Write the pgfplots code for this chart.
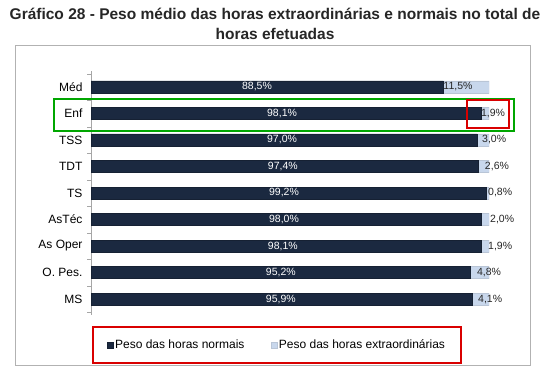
\documentclass[border=0pt]{standalone}
\usepackage{pgfplots}
\pgfplotsset{compat=1.18}
\usepackage{fontspec}
\setmainfont{Liberation Sans}
\definecolor{dk}{HTML}{1B2940}
\definecolor{lt}{HTML}{C8D7EC}
\begin{document}
\begin{tikzpicture}
\useasboundingbox (0,0) rectangle (550pt,370pt);
\fill[white] (0,0) rectangle (550pt,370pt);
\draw[gray!60, line width=0.6pt] (15pt,5pt) rectangle (530pt,325pt);
\node[font=\bfseries\fontsize{15.5}{18}\selectfont, text=black!85] at (275pt,356pt) {Gráfico 28 - Peso médio das horas extraordinárias e normais no total de};
\node[font=\bfseries\fontsize{15.5}{18}\selectfont, text=black!85] at (275pt,336pt) {horas efetuadas};
\begin{axis}[
  at={(91pt,55pt)}, anchor=south west, scale only axis,
  width=398pt, height=244pt,
  xbar stacked, bar width=12pt,
  xmin=0, xmax=100, ymin=-0.6, ymax=8.6,
  hide x axis,
  axis y line*=left,
  y axis line style={gray!70, line width=1pt},
  ytick={0,...,8},
  yticklabels={MS,O. Pes.,As Oper,AsTéc,TS,TDT,TSS,Enf,Méd},
  minor ytick={-0.5,0.5,...,8.5},
  major tick length=0pt, minor tick length=4pt, tick align=outside,
  minor tick style={gray!70},
  yticklabel style={font=\fontsize{12}{14}\selectfont, xshift=-5pt},
  legend style={at={(0.467,-0.123)}, anchor=center, legend columns=2, draw=none, fill=none,
    font=\fontsize{12}{14}\selectfont,
    /tikz/every even column/.append style={column sep=24pt}},
  legend image code/.code={\fill[#1] (0pt,-3pt) rectangle (6pt,3pt);},
]
\addplot[fill=dk, draw=dk!80!black] coordinates {(95.9,0) (95.2,1) (98.1,2) (98.0,3) (99.2,4) (97.4,5) (97.0,6) (98.1,7) (88.5,8)};
\addplot[fill=lt, draw=lt!80!gray] coordinates {(4.1,0) (4.8,1) (1.9,2) (2.0,3) (0.8,4) (2.6,5) (3.0,6) (1.9,7) (11.5,8)};
\legend{Peso das horas normais, Peso das horas extraordinárias}
\end{axis}
\begin{axis}[
  at={(91pt,55pt)}, anchor=south west, scale only axis,
  width=398pt, height=244pt,
  xmin=0, xmax=100, ymin=-0.6, ymax=8.6,
  hide axis, clip=false,
  /pgf/number format/.cd, fixed, fixed zerofill, precision=1, use comma, assume math mode=true,
]
\addplot[only marks, mark=none, point meta=explicit,
  nodes near coords={\pgfmathprintnumber{\pgfplotspointmeta}\%},
  nodes near coords style={white, anchor=center, font=\fontsize{10.5}{12}\selectfont}]
  table[meta=v] {
x y v
47.7 0 95.9
47.7 1 95.2
48.2 2 98.1
48.5 3 98.0
48.5 4 99.2
48.2 5 97.4
48.0 6 97.0
48.0 7 98.1
41.7 8 88.5
};
\addplot[only marks, mark=none, point meta=explicit,
  nodes near coords={\pgfmathprintnumber{\pgfplotspointmeta}\%},
  nodes near coords style={black!85, anchor=center, font=\fontsize{10.5}{12}\selectfont}]
  table[meta=v] {
x y v
100.3 0 4.1
100.0 1 4.8
102.8 2 1.9
103.3 3 2.0
102.8 4 0.8
102.0 5 2.6
101.3 6 3.0
101.0 7 1.9
92.2 8 11.5
};
\end{axis}
\draw[green!65!black, line width=2pt] (54pt,271pt) rectangle (514pt,239pt);
\draw[red!85!black, line width=2pt] (467pt,270pt) rectangle (509pt,242pt);
\draw[red!85!black, line width=2pt] (93pt,43pt) rectangle (461pt,7pt);
\end{tikzpicture}
\end{document}
